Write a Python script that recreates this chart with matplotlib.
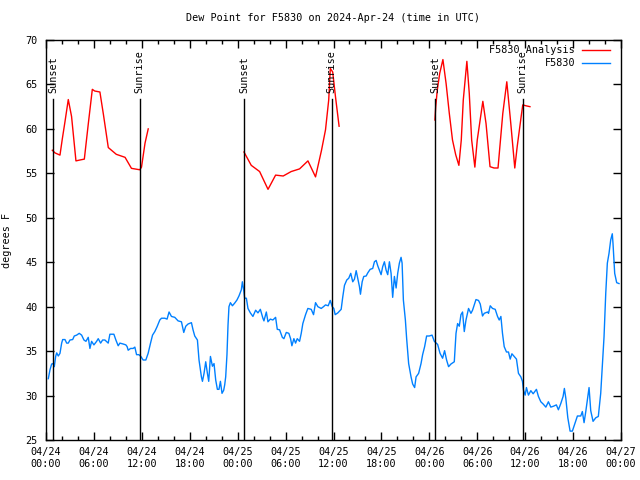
import matplotlib
matplotlib.use("Agg")
import matplotlib.pyplot as plt
from matplotlib.ticker import MultipleLocator
import matplotlib.transforms as mtransforms

# ---- data (hours since 2024-04-24 00:00 UTC) ----
analysis_hours = [
    [0.79, 1.125, 1.75, 2.04, 2.375, 2.79, 3.2, 3.75, 4.25, 4.8, 5.3, 5.8, 6.1, 6.75,
     7.2, 7.8, 8.8, 9.9, 10.7, 11.75, 11.96, 12.4, 12.8],
    [24.79, 25.7, 26.75, 27.8, 28.75, 29.7, 30.7, 31.75, 32.8, 33.75, 34.5, 35.0,
     35.4, 35.6, 35.9, 36.25, 36.7],
    [48.7, 48.8, 49.0, 49.3, 49.7, 50.1, 50.5, 50.9, 51.3, 51.7, 52.0, 52.25, 52.7,
     53.0, 53.3, 53.7, 54.0, 54.7, 55.1, 55.6, 56.1, 56.6, 57.2, 57.7, 58.2, 58.7,
     59.0, 59.5, 59.7, 60.1, 60.6],
]
analysis_values = [
    [57.6, 57.3, 57.05, 58.86, 60.8, 63.3, 61.4, 56.4, 56.5, 56.6, 60.6, 64.45, 64.26,
     64.15, 61.56, 57.9, 57.14, 56.8, 55.56, 55.4, 55.7, 58.4, 60.0],
    [57.4, 55.9, 55.2, 53.2, 54.8, 54.7, 55.2, 55.5, 56.4, 54.6, 57.6, 59.9, 63.25,
     66.8, 66.4, 63.6, 60.3],
    [61.0, 62.5, 64.4, 66.25, 67.8, 65.1, 61.75, 58.75, 57.1, 55.9, 58.75, 63.25, 67.6,
     64.0, 58.75, 55.7, 58.75, 63.1, 60.6, 55.75, 55.6, 55.6, 61.75, 65.3, 60.6, 55.6,
     58.0, 61.4, 62.7, 62.6, 62.5],
]

obs_hours = [
    0.29, 0.5, 0.71, 0.91, 1.04, 1.21, 1.34, 1.54, 1.75, 1.96, 2.09, 2.375, 2.59, 2.79,
    3.0, 3.34, 3.54, 3.84, 4.16, 4.46, 4.75, 5.0, 5.29, 5.5, 5.71, 6.0, 6.34, 6.54,
    6.84, 7.09, 7.375, 7.79, 8.0, 8.5, 8.75, 9.04, 9.25, 9.66, 10.0, 10.16, 10.29,
    10.59, 10.91, 11.125, 11.34, 11.625, 11.875, 12.16, 12.5, 12.79, 13.09, 13.34,
    13.625, 13.91, 14.25, 14.46, 14.875, 15.16, 15.41, 15.71, 16.125, 16.54, 16.96,
    17.25, 17.5, 17.79, 18.21, 18.41, 18.625, 18.96, 19.16, 19.46, 19.59, 19.79, 20.0,
    20.21, 20.375, 20.59, 20.84, 21.04, 21.25, 21.46, 21.66, 21.84, 22.04, 22.25,
    22.375, 22.5, 22.66, 22.79, 22.91, 23.09, 23.34, 23.625, 23.91, 24.16, 24.46,
    24.59, 24.75, 24.875, 25.09, 25.29, 25.59, 25.91, 26.25, 26.54, 26.84, 27.16,
    27.29, 27.59, 27.79, 28.09, 28.41, 28.75, 28.96, 29.25, 29.59, 29.79, 30.09,
    30.41, 30.625, 30.79, 31.04, 31.25, 31.46, 31.75, 31.96, 32.16, 32.5, 32.79,
    33.21, 33.5, 33.75, 34.04, 34.46, 34.75, 35.0, 35.34, 35.59, 35.84, 36.04, 36.21,
    36.54, 36.96, 37.16, 37.375, 37.66, 37.91, 38.16, 38.41, 38.625, 38.84, 39.04,
    39.25, 39.375, 39.59, 39.79, 40.09, 40.29, 40.59, 40.91, 41.125, 41.34, 41.54,
    41.75, 41.96, 42.16, 42.375, 42.59, 42.79, 43.0, 43.21, 43.34, 43.41, 43.625,
    43.84, 44.04, 44.25, 44.46, 44.59, 44.75, 45.0, 45.16, 45.41, 45.71, 45.91, 46.16,
    46.34, 46.66, 46.96, 47.16, 47.41, 47.66, 48.0, 48.34, 48.625, 49.04, 49.34,
    49.66, 49.91, 50.16, 50.41, 50.71, 51.125, 51.34, 51.54, 51.75, 51.96, 52.16,
    52.375, 52.59, 52.91, 53.21, 53.41, 53.84, 54.16, 54.375, 54.66, 54.875, 55.29,
    55.41, 55.625, 55.91, 56.25, 56.54, 56.75, 56.96, 57.16, 57.375, 57.66, 57.91,
    58.125, 58.34, 58.625, 58.91, 59.16, 59.46, 59.66, 59.79, 60.0, 60.16, 60.41,
    60.71, 61.0, 61.41, 61.66, 61.96, 62.25, 62.59, 62.91, 63.21, 63.54, 63.91, 64.16,
    64.46, 64.75, 64.91, 65.09, 65.34, 65.625, 65.91, 66.25, 66.54, 66.96, 67.16,
    67.375, 67.59, 67.84, 68.0, 68.21, 68.5, 68.84, 69.16, 69.46, 69.66, 69.875,
    70.09, 70.29, 70.5, 70.71, 70.91, 71.0, 71.21, 71.46, 71.75,
]
obs_values = [
    31.9, 32.9, 33.55, 33.6, 33.25, 34.4, 34.8, 34.45, 34.75, 35.9, 36.3, 36.3, 35.9,
    35.9, 36.25, 36.3, 36.7, 36.8, 37.0, 36.8, 36.25, 36.1, 36.55, 35.3, 36.1, 35.7,
    36.1, 36.4, 35.9, 36.25, 36.25, 35.9, 36.9, 36.9, 36.25, 35.6, 35.9, 35.8, 35.7,
    35.5, 35.1, 35.3, 35.3, 35.45, 34.6, 34.6, 34.4, 34.0, 34.0, 34.75, 35.9, 36.8,
    37.2, 37.75, 38.5, 38.7, 38.7, 38.6, 39.4, 38.9, 38.8, 38.4, 38.3, 37.1, 37.8,
    38.05, 38.2, 37.4, 36.7, 36.25, 34.0, 32.1, 31.6, 32.5, 33.8, 32.5, 31.6, 34.4,
    33.3, 33.6, 31.75, 30.7, 30.7, 31.6, 30.25, 30.6, 31.2, 32.1, 34.6, 37.9, 40.0,
    40.45, 40.1, 40.4, 40.75, 41.2, 41.9, 42.8, 41.9, 40.95, 40.95, 39.8, 39.3, 38.9,
    39.6, 39.3, 39.7, 38.7, 38.4, 39.4, 38.3, 38.6, 38.5, 38.8, 37.45, 37.4, 36.55,
    36.4, 37.1, 37.0, 36.4, 35.6, 36.4, 35.9, 36.4, 36.1, 37.0, 38.1, 39.1, 39.8,
    39.7, 39.1, 40.45, 40.0, 39.8, 40.0, 40.2, 40.1, 40.7, 40.0, 39.8, 39.1, 39.3,
    39.7, 41.1, 42.4, 43.0, 43.2, 43.75, 42.8, 43.1, 44.05, 43.2, 42.25, 41.4, 42.8,
    43.4, 43.45, 43.8, 44.2, 44.3, 45.05, 45.2, 44.6, 44.1, 43.6, 44.5, 45.05, 44.1,
    43.6, 45.05, 43.75, 41.9, 41.05, 43.4, 42.1, 43.75, 44.9, 45.55, 44.9, 40.75,
    38.5, 36.4, 33.6, 32.1, 31.3, 30.9, 32.1, 32.5, 33.6, 34.6, 35.5, 36.7, 36.7,
    36.8, 36.1, 35.75, 34.75, 34.2, 35.05, 34.0, 33.25, 33.55, 33.8, 37.0, 38.1, 37.8,
    39.1, 39.4, 37.2, 38.5, 39.8, 39.25, 39.6, 40.8, 40.7, 40.3, 38.95, 39.25, 39.4,
    39.25, 40.1, 39.8, 39.7, 38.9, 38.5, 38.9, 37.0, 35.5, 34.9, 34.9, 34.1, 34.7,
    34.4, 34.1, 32.5, 32.1, 31.6, 30.6, 30.05, 30.9, 30.05, 30.55, 30.2, 30.7, 29.9,
    29.3, 29.05, 28.7, 29.3, 28.7, 28.8, 28.95, 28.4, 29.1, 29.9, 30.8, 29.7, 27.5,
    26.0, 26.0, 26.9, 27.7, 27.7, 28.2, 26.95, 28.2, 29.9, 30.9, 28.3, 27.1, 27.5,
    27.65, 30.25, 33.25, 36.6, 41.5, 44.9, 46.0, 47.5, 48.2, 47.1, 43.75, 42.7, 42.6,
]

sun_hours = [0.9, 11.75, 24.78, 35.78, 48.75, 59.7]
sun_labels = ["Sunset", "Sunrise", "Sunset", "Sunrise", "Sunset", "Sunrise"]

xtick_hours = [0, 6, 12, 18, 24, 30, 36, 42, 48, 54, 60, 66, 72]
xtick_labels = ["04/24\n00:00", "04/24\n06:00", "04/24\n12:00", "04/24\n18:00",
                "04/25\n00:00", "04/25\n06:00", "04/25\n12:00", "04/25\n18:00",
                "04/26\n00:00", "04/26\n06:00", "04/26\n12:00", "04/26\n18:00",
                "04/27\n00:00"]

title = "Dew Point for F5830 on 2024-Apr-24 (time in UTC)"
ylabel = "degrees F"
series_names = ["F5830 Analysis", "F5830"]

# ---- styling ----
RED = "#ff0000"
BLUE = "#0080ff"
FONT = "DejaVu Sans Mono"
FS = 7.3

plt.rcParams["font.family"] = [FONT, "DejaVu Sans"]
plt.rcParams["font.size"] = FS

fig = plt.figure(figsize=(6.4, 4.8), dpi=100)
ax = fig.add_axes([46 / 640, 40 / 480, 575 / 640, 400 / 480])

for hs, vs in zip(analysis_hours, analysis_values):
    ax.plot(hs, vs, color=RED, lw=1.0)
ax.plot(obs_hours, obs_values, color=BLUE, lw=1.0)

trans = mtransforms.blended_transform_factory(ax.transData, ax.transAxes)
for h, lab in zip(sun_hours, sun_labels):
    ax.axvline(h, ymin=0, ymax=0.8525, color="black", lw=1.0)
    ax.text(h, 0.868, lab, rotation=90, ha="center", va="bottom",
            transform=trans, fontsize=FS)

ax.set_xlim(0, 72)
ax.set_ylim(25, 70)
ax.set_xticks(xtick_hours)
ax.set_xticklabels(xtick_labels)
ax.xaxis.set_minor_locator(MultipleLocator(2))
ax.yaxis.set_major_locator(MultipleLocator(5))
ax.tick_params(which="both", direction="in", top=True, right=True, width=1)
ax.tick_params(which="major", length=6, pad=5)
ax.tick_params(which="minor", length=3)
ax.tick_params(axis="y", pad=6)
for s in ax.spines.values():
    s.set_linewidth(1.0)

ax.set_title(title, fontsize=FS, pad=14)
ax.set_ylabel(ylabel, fontsize=FS, labelpad=10)

# legend (gnuplot style, right-aligned text)
for i, (name, col) in enumerate(zip(series_names, [RED, BLUE])):
    y = 0.975 - i * 0.0325
    ax.text(0.92, y, name, ha="right", va="center", transform=ax.transAxes, fontsize=FS)
    ax.plot([0.932, 0.981], [y, y], color=col, lw=1.0, transform=ax.transAxes,
            clip_on=False)

fig.savefig("out.png", dpi=100)
